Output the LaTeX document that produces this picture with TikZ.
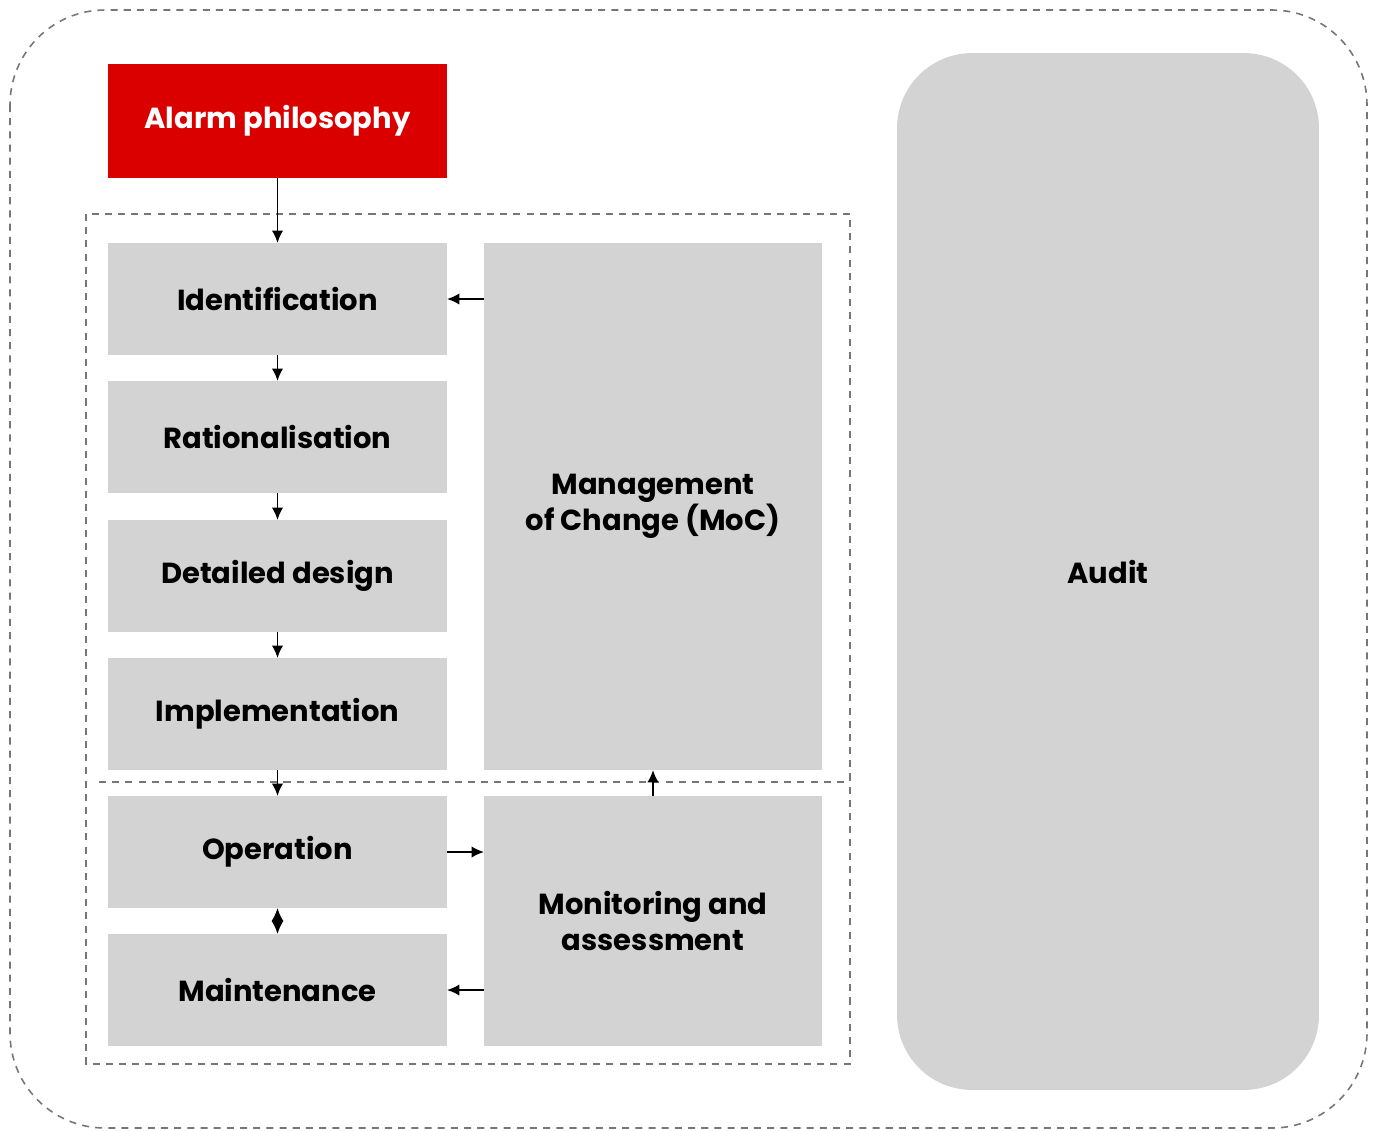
\documentclass[tikz,border=0pt]{standalone}
\usepackage{fontspec}
\setmainfont{Poppins}
\usetikzlibrary{arrows.meta}

\definecolor{abbred}{RGB}{218,0,0}
\definecolor{boxgray}{RGB}{211,211,211}
\definecolor{dashgray}{RGB}{118,118,118}

\tikzset{
    stage/.style={fill=boxgray, inner sep=0pt, outer sep=0pt, align=center,
        font=\bfseries\fontsize{16.5}{20.5}\selectfont},
    frame/.style={draw=dashgray, line width=0.9pt, dash pattern=on 4pt off 3.5pt},
    flow/.style={line width=1.1pt, -{Latex[length=0.25cm,width=0.23cm]}},
}

\begin{document}
\begin{tikzpicture}[x=0.02cm,y=-0.02cm]
    \useasboundingbox (0,0) rectangle (1375,1130);

    %outer frame
    \draw[frame, rounded corners=1.9cm] (10,10) rectangle (1367,1128);
    %inner frame
    \draw[frame] (86,214) rectangle (850,1064);
    \draw[frame] (99,782) -- (850,782);

    %philosophy
    \node[stage, fill=abbred, text=white, minimum width=6.8cm, minimum height=2.28cm]
        (philo) at (277.5,121) {Alarm philosophy};

    %lifecycle stages
    \node[stage, minimum width=6.78cm, minimum height=2.24cm] (ident)  at (277.5,299) {Identification};
    \node[stage, minimum width=6.78cm, minimum height=2.24cm] (ratio)  at (277.5,437) {Rationalisation};
    \node[stage, minimum width=6.78cm, minimum height=2.24cm] (design) at (277.5,576) {Detailed design};
    \node[stage, minimum width=6.78cm, minimum height=2.24cm] (impl)   at (277.5,714) {Implementation};
    \node[stage, minimum width=6.78cm, minimum height=2.24cm] (oper)   at (277.5,852) {Operation};
    \node[stage, minimum width=6.78cm, minimum height=2.24cm] (maint)  at (277.5,990) {Maintenance};

    \node[stage, minimum width=6.76cm, minimum height=10.54cm] (moc) at (653,506.5)
        {Management\\of Change (MoC)};
    \node[stage, minimum width=6.76cm, minimum height=5cm] (monit) at (653,921)
        {Monitoring and\\assessment};

    %audit
    \node[stage, rounded corners=1.5cm, minimum width=8.44cm, minimum height=20.74cm]
        (audit) at (1108,571.5) {Audit};

    %arrows
    \draw[flow] (philo) -- (ident);
    \draw[flow] (ident) -- (ratio);
    \draw[flow] (ratio) -- (design);
    \draw[flow] (design) -- (impl);
    \draw[flow] (impl) -- (oper);
    \draw[flow] (moc.west |- ident) -- (ident.east);
    \draw[flow] (oper.east) -- (monit.west |- oper);
    \draw[flow] (monit.west |- maint) -- (maint.east);
    \draw[flow] (monit) -- (moc);
    \draw[line width=1.1pt, {Latex[length=0.26cm,width=0.24cm]}-{Latex[length=0.26cm,width=0.24cm]}]
        (oper) -- (maint);
\end{tikzpicture}
\end{document}
